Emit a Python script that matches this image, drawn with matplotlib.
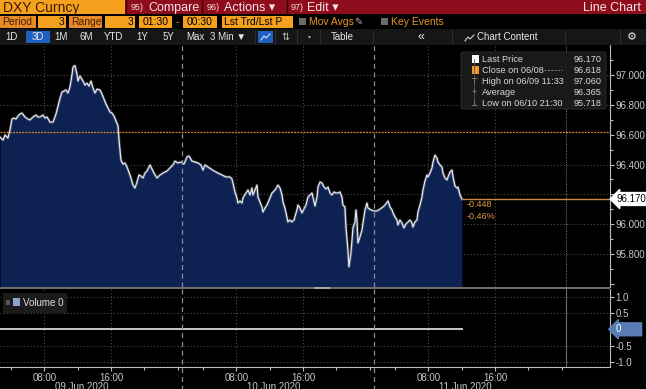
import matplotlib
matplotlib.use("Agg")
import matplotlib.pyplot as plt
from matplotlib.patches import Rectangle, FancyBboxPatch

plt.rcParams['font.family'] = ['Liberation Sans', 'DejaVu Sans']

# session hours counted from 09 Jun 01:30 (each session 01:30 -> 00:30, 23h)
t = [1.19, 1.55, 1.79, 2.14, 2.38, 2.62, 2.86, 3.10, 3.34, 3.58, 3.82, 4.18, 4.54, 4.78,
     5.14, 5.50, 5.74, 5.98, 6.34, 6.58, 6.82, 7.18, 7.54, 7.90, 8.14, 8.38, 8.61, 8.85,
     9.09, 9.33, 9.57, 9.81, 9.93, 10.17, 10.41, 10.53, 10.77, 11.13, 11.37, 11.61, 11.85,
     12.09, 12.33, 12.57, 12.81, 13.17, 13.41, 13.65, 13.89, 14.13, 14.37, 14.61, 14.85,
     15.09, 15.33, 15.45, 15.68, 15.92, 16.16, 16.40, 16.64, 16.88, 17.12, 17.36, 17.60,
     17.84, 18.08, 18.32, 18.56, 18.80, 19.16, 19.40, 19.64, 20.00, 20.36, 20.72, 21.20,
     21.56, 21.91, 22.15, 22.51, 22.87, 23.23, 23.59, 23.83, 24.19, 24.55, 24.91, 25.27,
     25.51, 25.75, 26.11, 26.47, 26.83, 27.31, 27.79, 28.27, 28.74, 28.98, 29.10, 29.34,
     29.58, 29.70, 29.94, 30.18, 30.30, 30.66, 30.90, 31.14, 31.38, 31.50, 31.74, 31.98,
     32.10, 32.34, 32.58, 32.70, 32.94, 33.18, 33.54, 33.78, 34.14, 34.50, 34.74, 34.98,
     35.10, 35.33, 35.57, 35.69, 35.93, 36.17, 36.41, 36.77, 36.89, 37.13, 37.37, 37.61,
     37.85, 38.09, 38.33, 38.57, 38.69, 38.93, 39.17, 39.29, 39.53, 39.77, 40.01, 40.25,
     40.49, 40.73, 40.97, 41.21, 41.45, 41.68, 41.92, 42.16, 42.28, 42.52, 42.64, 42.88,
     43.00, 43.24, 43.36, 43.48, 43.72, 43.84, 43.96, 44.08, 44.32, 44.56, 44.68, 44.92,
     45.16, 45.28, 45.64, 46.00, 46.36, 46.72, 47.08, 47.32, 47.68, 47.92, 48.16, 48.28,
     48.52, 48.76, 48.87, 49.11, 49.35, 49.59, 49.83, 50.07, 50.31, 50.55, 50.67, 50.91,
     51.15, 51.27, 51.51, 51.75, 51.87, 52.11, 52.35, 52.47, 52.71, 52.95, 53.07, 53.31,
     53.55, 53.67, 53.91, 54.15, 54.27, 54.51, 54.75, 54.87, 55.11, 55.35, 55.47, 55.71,
     55.95, 56.07, 56.30, 56.54]
price = [96.583, 96.563, 96.597, 96.577, 96.630, 96.703, 96.710, 96.703, 96.723, 96.737,
         96.743, 96.717, 96.703, 96.697, 96.717, 96.730, 96.717, 96.717, 96.730, 96.710,
         96.717, 96.683, 96.683, 96.737, 96.790, 96.843, 96.883, 96.890, 96.897, 96.877,
         96.917, 96.997, 97.050, 97.060, 97.003, 96.957, 96.990, 96.957, 96.930, 96.943,
         96.923, 96.957, 96.910, 96.877, 96.903, 96.897, 96.870, 96.837, 96.803, 96.777,
         96.750, 96.743, 96.723, 96.690, 96.657, 96.563, 96.430, 96.403, 96.410, 96.383,
         96.350, 96.310, 96.263, 96.243, 96.283, 96.330, 96.323, 96.310, 96.343, 96.357,
         96.397, 96.370, 96.343, 96.310, 96.330, 96.343, 96.357, 96.377, 96.397, 96.423,
         96.410, 96.417, 96.403, 96.450, 96.457, 96.423, 96.417, 96.410, 96.397, 96.363,
         96.397, 96.383, 96.370, 96.357, 96.343, 96.330, 96.317, 96.317, 96.303, 96.277,
         96.217, 96.177, 96.143, 96.157, 96.143, 96.177, 96.210, 96.230, 96.197, 96.243,
         96.197, 96.230, 96.263, 96.183, 96.150, 96.117, 96.083, 96.110, 96.130, 96.177,
         96.210, 96.230, 96.263, 96.243, 96.197, 96.150, 96.110, 96.050, 96.017, 96.030,
         96.017, 96.030, 96.097, 96.130, 96.110, 96.077, 96.103, 96.130, 96.183, 96.197,
         96.210, 96.183, 96.123, 96.183, 96.250, 96.283, 96.277, 96.250, 96.237, 96.250,
         96.210, 96.197, 96.217, 96.210, 96.210, 96.217, 96.183, 96.130, 96.117, 95.983,
         95.830, 95.718, 95.810, 95.897, 95.977, 96.017, 96.097, 96.030, 95.877, 95.917,
         95.963, 96.010, 96.097, 96.143, 96.110, 96.097, 96.090, 96.090, 96.103, 96.117,
         96.130, 96.157, 96.117, 96.097, 96.077, 96.050, 96.030, 95.997, 96.030, 96.010,
         95.977, 96.003, 96.017, 96.030, 96.010, 95.983, 96.017, 96.030, 96.083, 96.130,
         96.183, 96.230, 96.290, 96.330, 96.317, 96.343, 96.377, 96.417, 96.463, 96.443,
         96.417, 96.397, 96.383, 96.343, 96.310, 96.297, 96.317, 96.350, 96.363, 96.317,
         96.257, 96.243, 96.250, 96.197, 96.170]

close_0608 = 96.618
last_price = 96.170
legend_rows = [("Last Price", "96.170"), ("Close on 06/08", "96.618"),
               ("High on 06/09 11:33", "97.060"), ("Average", "96.365"),
               ("Low on 06/10 21:30", "95.718")]
change_abs = "-0.448"
change_pct = "-0.46%"

hour_ticks = [6.5, 14.5, 29.5, 37.5, 52.5, 60.5]
hour_labels = ["08:00", "16:00"] * 3
minor_hours = [2.5, 10.5, 18.5, 22.5, 25.5, 33.5, 41.5, 45.5, 48.5, 56.5, 64.5, 68.5]
sessions = [23, 46]
next_session = 69
day_labels = ["09 Jun 2020", "10 Jun 2020", "11 Jun 2020"]
day_pos = [11.0, 34.0, 57.0]

W, H = 646, 389
XMIN, XMAX = 1.186, 74.28
GRID = '#4e4e4e'
TXT = '#c8c8c8'
AMBER = '#f6a11e'

fig = plt.figure(figsize=(W / 100, H / 100), dpi=100, facecolor='black')


def frac(x0, y0, x1, y1):
    return [x0 / W, 1 - y1 / H, (x1 - x0) / W, (y1 - y0) / H]


# ---------- main price panel ----------
ax = fig.add_axes(frac(0, 45, 610, 287))
ax.set_facecolor('black')
ax.set_xlim(XMIN, XMAX)
ax.set_ylim(95.583, 97.197)
ax.fill_between(t, price, 95.583, color='#0d2152', lw=0, zorder=2)
ax.plot(t, price, color='#ffffff', lw=2.2, alpha=0.18, zorder=3)
ax.plot(t, price, color='#e6e8f0', lw=0.9, zorder=4)
for v in [95.8, 96.0, 96.2, 96.4, 96.8, 97.0]:
    ax.axhline(v, color=GRID, lw=0.8, ls=(0, (1, 2)), zorder=1)
for h in hour_ticks:
    ax.axvline(h, color=GRID, lw=0.8, ls=(0, (1, 2)), zorder=1)
for s in sessions:
    ax.axvline(s, color='#8c8c8c', lw=0.9, ls=(0, (4, 3)), zorder=5)
ax.axvline(next_session, color='#6c6c6c', lw=0.8, ls=(0, (1, 1)), zorder=1)
ax.axhline(close_0608, color='#e08a2c', lw=0.9, ls=(0, (1.5, 1)), zorder=5)
ax.plot([t[-1], XMAX], [last_price, last_price], color='#c98a48', lw=1.0, zorder=5)
ax.text(t[-1] + 0.6, last_price - 0.035, change_abs, color='#e09a40', fontsize=6.5,
        va='center', zorder=6)
ax.text(t[-1] + 0.6, last_price - 0.115, change_pct, color='#e09a40', fontsize=6.5,
        va='center', zorder=6)

ax.yaxis.tick_right()
ax.set_yticks([95.6, 95.8, 96.0, 96.2, 96.4, 96.6, 96.8, 97.0])
ax.set_yticklabels(["", "95.800", "96.000", "", "96.400", "96.600", "96.800", "97.000"])
ax.set_yticks([95.7, 95.9, 96.1, 96.3, 96.5, 96.7, 96.9, 97.1], minor=True)
ax.tick_params(axis='y', which='both', colors='#bdbdbd', labelsize=7, length=3, width=0.8,
               pad=1, labelcolor=TXT)
ax.tick_params(axis='y', which='minor', length=2)
ax.set_xticks([])
for sp in ['top', 'left', 'bottom']:
    ax.spines[sp].set_visible(False)
ax.spines['right'].set_color('#bdbdbd')
ax.spines['right'].set_linewidth(0.8)

ax.annotate("96.170", xy=(1.0, last_price), xycoords=('axes fraction', 'data'),
            xytext=(5, 0), textcoords='offset points', fontsize=7, color='black',
            va='center', ha='left', annotation_clip=False, zorder=10,
            bbox=dict(boxstyle='larrow,pad=0.15', fc='white', ec='white'))

# legend box
lg = fig.add_axes(frac(460, 51, 607, 110))
lg.set_xlim(460, 607)
lg.set_ylim(110, 51)
lg.axis('off')
lg.add_patch(FancyBboxPatch((461, 52), 145, 57, boxstyle='round,pad=0,rounding_size=2',
                            fc='#1b1b1b', ec='#2e2e2e', lw=0.6, alpha=0.95))
row_y = [59, 70, 81, 92.5, 104]
lg.plot([474, 474], [59, 104], color='#5a5a5a', lw=0.6)
lg.add_patch(Rectangle((471.5, 55), 7, 7.5, fc='white', ec='none'))
lg.add_patch(Rectangle((471.5, 66), 7, 7.5, fc='#f29b1f', ec='none'))
lg.text(474, 81, "\u22a4", color='#9a9a9a', fontsize=6, ha='center', va='center',
        family=['DejaVu Sans'])
lg.text(474, 92.5, "+", color='#9a9a9a', fontsize=6, ha='center', va='center')
lg.text(474, 104, "\u22a5", color='#9a9a9a', fontsize=6, ha='center', va='center',
        family=['DejaVu Sans'])
for (lab, val), y in zip(legend_rows, row_y):
    lg.text(482, y, lab, color='#d8d8d8', fontsize=6.6, va='center')
    lg.text(602, y, val, color='#d8d8d8', fontsize=6.6, va='center', ha='right')
lg.plot([544, 562], [70, 70], color='#8a8a8a', lw=0.7, ls=(0, (2, 1.5)))

# ---------- volume panel ----------
av = fig.add_axes(frac(0, 289, 610, 367))
av.set_facecolor('black')
av.set_xlim(XMIN, XMAX)
av.set_ylim(-1.16, 1.24)
for v in [-1.0, -0.5, 0.5, 1.0]:
    av.axhline(v, color=GRID, lw=0.8, ls=(0, (1, 2)))
for h in hour_ticks:
    av.axvline(h, color=GRID, lw=0.8, ls=(0, (1, 2)))
av.axvline(next_session, color='#6c6c6c', lw=0.8)
av.plot([t[0], t[-1]], [0, 0], color='#d8d8d8', lw=1.3)
av.yaxis.tick_right()
av.set_yticks([-1.0, -0.5, 0, 0.5, 1.0])
av.set_yticklabels(["-1.0", "-0.5", "", "0.5", "1.0"])
av.tick_params(axis='y', colors='#bdbdbd', labelsize=7, length=3, width=0.8, pad=1,
               labelcolor=TXT)
av.set_xticks(hour_ticks)
av.set_xticklabels(hour_labels)
av.set_xticks(minor_hours, minor=True)
av.tick_params(axis='x', which='both', colors='#bdbdbd', labelsize=7, length=3, width=0.8,
               pad=1, labelcolor=TXT)
av.tick_params(axis='x', which='minor', length=2)
for sp in ['top', 'left']:
    av.spines[sp].set_visible(False)
for sp in ['right', 'bottom']:
    av.spines[sp].set_color('#bdbdbd')
    av.spines[sp].set_linewidth(0.8)
av.annotate("0       ", xy=(1.0, 0), xycoords=('axes fraction', 'data'), xytext=(4, 0),
            textcoords='offset points', fontsize=7, color='white', va='center',
            annotation_clip=False, zorder=10,
            bbox=dict(boxstyle='larrow,pad=0.15', fc='#5a7db8', ec='#5a7db8'))

# ---------- interface overlay ----------
ui = fig.add_axes([0, 0, 1, 1], zorder=20)
ui.set_xlim(0, W)
ui.set_ylim(H, 0)
ui.axis('off')
ui.patch.set_alpha(0)


def box(x0, y0, x1, y1, color, **kw):
    ui.add_patch(Rectangle((x0, y0), x1 - x0, y1 - y0, fc=color, ec='none', **kw))


# row 1
box(0, 0, 646, 14, '#8e0c1c')
box(0, 0, 125, 14, AMBER)
ui.text(3, 7.5, "DXY Curncy", color='#3a1a00', fontsize=10, va='center')
for x0 in [127, 203, 288]:
    ui.plot([x0 - 1.5, x0 - 1.5], [0, 14], color='#3a0006', lw=1)
ui.text(131, 7.5, "95)", color='#f0d8d8', fontsize=6.5, va='center')
ui.text(148, 7.5, "Compare", color='#f4e6e6', fontsize=9, va='center')
ui.text(207, 7.5, "96)", color='#f0d8d8', fontsize=6.5, va='center')
ui.text(224, 7.5, "Actions \u25be", color='#f4e6e6', fontsize=9, va='center')
ui.text(291, 7.5, "97)", color='#f0d8d8', fontsize=6.5, va='center')
ui.text(307, 7.5, "Edit \u25be", color='#f4e6e6', fontsize=9, va='center')
ui.text(641, 7.5, "Line Chart", color='#f4e6e6', fontsize=9, va='center', ha='right')

# row 2
box(0, 14, 646, 29, 'black')
for x0, x1, lab, fc, tc, ha in [
        (0, 36, "Period", '#e58a26', '#4a2200', 'left'),
        (38, 66, "3", AMBER, 'black', 'right'),
        (69, 102, "Range", '#e58a26', '#4a2200', 'left'),
        (105, 135, "3", AMBER, 'black', 'right'),
        (139, 172, "01:30", AMBER, 'black', 'center'),
        (183, 217, "00:30", AMBER, 'black', 'center'),
        (222, 293, "Lst Trd/Lst P", AMBER, 'black', 'left')]:
    box(x0, 15.5, x1, 28, fc)
    xt = {'left': x0 + 2, 'right': x1 - 2, 'center': (x0 + x1) / 2}[ha]
    ui.text(xt, 22, lab, color=tc, fontsize=7.5, va='center', ha=ha)
ui.text(177.5, 22, "-", color=AMBER, fontsize=8, va='center', ha='center')
box(299, 18, 306, 25, '#6a6a6a')
ui.text(309, 22, "Mov Avgs", color='#e8942a', fontsize=7.5, va='center')
ui.text(358, 22, "\u270e", color='#b0b0b0', fontsize=7, va='center', ha='center',
        family=['DejaVu Sans'])
box(381, 18, 388, 25, '#6a6a6a')
ui.text(391, 22, "Key Events", color='#e8942a', fontsize=7.5, va='center')

# row 3
box(0, 29, 646, 44.5, '#161616')
box(26, 31, 50, 43, '#1f5fc0')
for x, lab in [(12, "1D"), (38, "3D"), (61, "1M"), (86, "6M"), (114, "YTD"), (142, "1Y"),
               (168, "5Y"), (195, "Max"), (228, "3 Min \u25bc")]:
    ui.text(x, 37, lab, color='#e6e6e6', fontsize=7, va='center', ha='center')
box(258, 31, 273, 43, '#1f5fc0')
ui.plot([261, 264, 266, 270], [40, 36, 38, 34], color='#cfe0ff', lw=0.8)
ui.text(286, 37, "\u21c5", color='#bfbfbf', fontsize=7, va='center', ha='center',
        family=['DejaVu Sans'])
ui.text(309, 37, "\u2022", color='#bfbfbf', fontsize=6, va='center', ha='center')
ui.text(342, 37, "Table", color='#e6e6e6', fontsize=7, va='center', ha='center')
ui.text(421, 37, "\u00ab", color='#e6e6e6', fontsize=9, va='center', ha='center')
ui.plot([465, 468, 470, 474], [41, 37, 39, 35], color='#d0d0d0', lw=0.8)
ui.text(477, 37, "Chart Content", color='#e6e6e6', fontsize=7, va='center')
ui.text(632, 37, "\u2699", color='#e6e6e6', fontsize=8, va='center', ha='center',
        family=['DejaVu Sans'])
for x in [255, 275, 297, 320, 373, 452, 565, 620]:
    ui.plot([x, x], [30, 44], color='#2c2c2c', lw=0.8)

# splitter between panels and session lines through the bottom labels
box(0, 286.5, 610, 289, '#6e6e6e')
box(314, 286.5, 330, 289, '#a8a8a8')
for s in sessions:
    px = (s - XMIN) / (XMAX - XMIN) * 610
    ui.plot([px, px], [289, 389], color='#8c8c8c', lw=0.9, ls=(0, (4, 3)))

# volume legend
box(3, 293, 67, 313, '#1b1b1b')
box(6, 300, 10, 305, '#555555')
box(13, 298, 20, 306, '#8aa6d0')
ui.text(23, 302.5, "Volume 0", color='#e0e0e0', fontsize=7, va='center')

# day labels (clipped by the bottom edge, as in the terminal view)
for d, pos in zip(day_labels, day_pos):
    px = (pos - XMIN) / (XMAX - XMIN) * 610
    ui.text(px, 382.5, d, color=TXT, fontsize=7, ha='center', va='top', clip_on=False)

fig.savefig("out.png", dpi=100, facecolor='black')
